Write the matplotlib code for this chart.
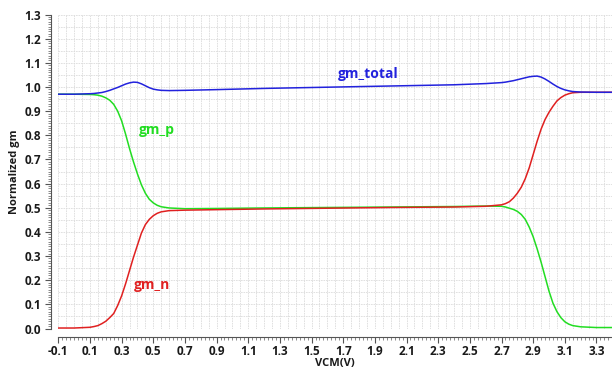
import matplotlib
matplotlib.use("Agg")
import matplotlib.pyplot as plt
import numpy as np
from matplotlib.ticker import FixedLocator, MultipleLocator

plt.rcParams['font.family'] = ['Open Sans', 'DejaVu Sans']

vcm = [-0.1, 0.0, 0.1,
       0.125, 0.15, 0.175, 0.2, 0.225, 0.25, 0.275, 0.3, 0.325, 0.35, 0.375, 0.4,
       0.425, 0.45, 0.475, 0.5, 0.525, 0.55,
       0.6, 0.7, 0.9, 1.2, 1.6, 2.0, 2.4, 2.6,
       2.7, 2.725, 2.75, 2.775, 2.8, 2.825, 2.85, 2.875, 2.9, 2.925, 2.95, 2.975,
       3.0, 3.025, 3.05, 3.075, 3.1, 3.125, 3.15,
       3.2, 3.3, 3.4]

gm_p = [0.970, 0.970, 0.969,
        0.968, 0.966, 0.962, 0.955, 0.945, 0.928, 0.900, 0.860, 0.805, 0.745, 0.690,
        0.640, 0.595, 0.560, 0.535, 0.520, 0.510, 0.504,
        0.499, 0.496, 0.497, 0.499, 0.501, 0.503, 0.505, 0.507,
        0.506, 0.503, 0.498, 0.493, 0.485, 0.472, 0.452, 0.420, 0.380, 0.330, 0.275,
        0.215, 0.155, 0.105, 0.070, 0.045, 0.028, 0.018, 0.012,
        0.007, 0.004, 0.004]

gm_n = [0.002, 0.002, 0.005,
        0.008, 0.012, 0.020, 0.030, 0.045, 0.062, 0.095, 0.135, 0.185, 0.240, 0.295,
        0.345, 0.395, 0.430, 0.452, 0.467, 0.477, 0.483,
        0.488, 0.490, 0.492, 0.495, 0.498, 0.501, 0.503, 0.506,
        0.512, 0.517, 0.525, 0.540, 0.560, 0.585, 0.620, 0.665, 0.720, 0.775, 0.825,
        0.865, 0.895, 0.920, 0.942, 0.956, 0.966, 0.972, 0.976,
        0.978, 0.978, 0.978]

gm_total = [0.970, 0.970, 0.972,
            0.973, 0.975, 0.977, 0.981, 0.986, 0.992, 0.998, 1.005, 1.012, 1.017,
            1.020, 1.019, 1.013, 1.005, 0.997, 0.991, 0.988, 0.986,
            0.985, 0.986, 0.989, 0.994, 0.999, 1.004, 1.009, 1.014,
            1.018, 1.020, 1.023, 1.026, 1.030, 1.034, 1.038, 1.042, 1.044, 1.045,
            1.041, 1.033, 1.023, 1.012, 1.002, 0.994, 0.988, 0.984, 0.981,
            0.979, 0.978, 0.978]

x_ticks = [-0.1, 0.1, 0.3, 0.5, 0.7, 0.9, 1.1, 1.3, 1.5, 1.7, 1.9, 2.1, 2.3, 2.5,
           2.7, 2.9, 3.1, 3.3]
y_ticks = [0.0, 0.1, 0.2, 0.3, 0.4, 0.5, 0.6, 0.7, 0.8, 0.9, 1.0, 1.1, 1.2, 1.3]

labels = ["gm_total", "gm_p", "gm_n"]

c_blue = '#2222dd'
c_green = '#22dd22'
c_red = '#e02020'

fig = plt.figure(figsize=(6.12, 3.68), dpi=100)
ax = fig.add_axes([58.3 / 612, 39.5 / 368, 554 / 612, 314 / 368])
ax.set_xlim(-0.1, 3.4)
ax.set_ylim(0.0, 1.3)

# grid
for gx in np.arange(-0.1, 3.41, 0.05):
    ax.axvline(gx, color='#dcdcdc', lw=0.6, ls=(0, (2, 1)), zorder=0)
for gy in np.arange(0.0, 1.31, 0.05):
    ax.axhline(gy, color='#dcdcdc', lw=0.6, ls=(0, (2, 1)), zorder=0)

ax.plot(vcm, gm_total, color=c_blue, lw=1.1, zorder=3)
ax.plot(vcm, gm_p, color=c_green, lw=1.1, zorder=2)
ax.plot(vcm, gm_n, color=c_red, lw=1.1, zorder=2)

ax.text(1.86, 1.052, labels[0], color=c_blue, fontsize=10, fontweight='bold',
        ha='center', va='center')
ax.text(0.52, 0.822, labels[1], color=c_green, fontsize=10, fontweight='bold',
        ha='center', va='center')
ax.text(0.49, 0.18, labels[2], color=c_red, fontsize=10, fontweight='bold',
        ha='center', va='center')

for s in ['top', 'right']:
    ax.spines[s].set_visible(False)
ax.spines['left'].set_position(('outward', 5))
ax.spines['bottom'].set_position(('outward', 6))
for s in ['left', 'bottom']:
    ax.spines[s].set_color('#555555')
    ax.spines[s].set_linewidth(0.8)

ax.xaxis.set_major_locator(FixedLocator(x_ticks))
ax.set_xticklabels([f"{v:.1f}" for v in x_ticks])
ax.xaxis.set_minor_locator(FixedLocator(np.arange(-0.1, 3.41, 0.025)))
ax.yaxis.set_major_locator(FixedLocator(y_ticks))
ax.set_yticklabels([f"{v:.1f}" for v in y_ticks])
ax.yaxis.set_minor_locator(MultipleLocator(0.01))

ax.tick_params(axis='both', which='major', length=4, width=0.8, color='#555555',
               labelsize=8.5, labelcolor='#1a1a1a', direction='out')
ax.tick_params(axis='x', which='major', pad=2)
ax.tick_params(axis='both', which='minor', length=2, width=0.6, color='#777777',
               direction='out')
for lbl in ax.get_xticklabels() + ax.get_yticklabels():
    lbl.set_fontweight('bold')

ax.set_xlabel("VCM(V)", fontsize=8, fontweight='bold', color='#1a1a1a', labelpad=0)
ax.set_ylabel("Normalized gm", fontsize=8, fontweight='bold', color='#1a1a1a', labelpad=3)

fig.savefig("out.png", dpi=100)
